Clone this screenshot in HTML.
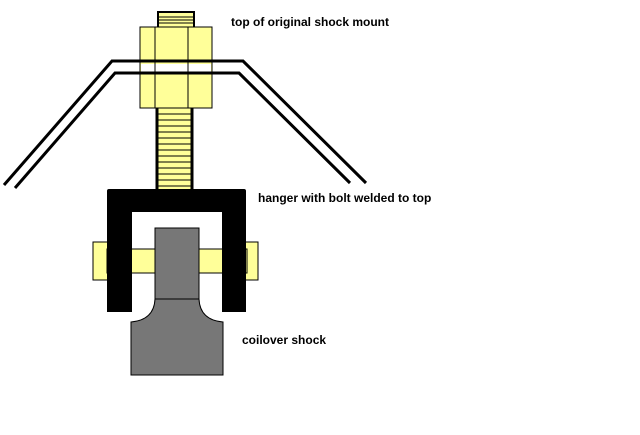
<!DOCTYPE html>
<html><head><style>
html,body{margin:0;padding:0;background:#fff;}
.t{position:absolute;font-family:"Liberation Sans",Arial,sans-serif;font-weight:bold;font-size:12px;color:#000;white-space:nowrap;line-height:14px;}
</style></head><body>
<div style="position:relative;width:640px;height:435px;overflow:hidden;">
<svg width="640" height="435" style="position:absolute;left:0;top:0">
<rect x="158" y="12" width="36" height="16" fill="#ffff99" stroke="#000" stroke-width="2"/>
<g stroke="#000" stroke-width="1">
<line x1="159" y1="17" x2="193" y2="17"/><line x1="159" y1="20" x2="193" y2="20"/><line x1="159" y1="23" x2="193" y2="23"/>
</g>
<rect x="157" y="107" width="35" height="84" fill="#ffff99" stroke="#000" stroke-width="3"/>
<g stroke="#000" stroke-width="1">
<line x1="158" y1="114" x2="191" y2="114"/><line x1="158" y1="120" x2="191" y2="120"/><line x1="158" y1="126" x2="191" y2="126"/>
<line x1="158" y1="132" x2="191" y2="132"/><line x1="158" y1="138" x2="191" y2="138"/><line x1="158" y1="144" x2="191" y2="144"/>
<line x1="158" y1="150" x2="191" y2="150"/><line x1="158" y1="156" x2="191" y2="156"/><line x1="158" y1="162" x2="191" y2="162"/>
<line x1="158" y1="168" x2="191" y2="168"/><line x1="158" y1="174" x2="191" y2="174"/><line x1="158" y1="180" x2="191" y2="180"/>
<line x1="158" y1="186" x2="191" y2="186"/>
</g>
<rect x="140" y="27" width="72" height="81" fill="#ffff99" stroke="#000" stroke-width="1"/>
<line x1="155" y1="27" x2="155" y2="108" stroke="#000"/>
<line x1="188" y1="27" x2="188" y2="108" stroke="#000"/>
<rect x="141" y="64" width="70" height="8" fill="#fff"/>
<line x1="155" y1="64" x2="155" y2="72" stroke="#000"/>
<line x1="188" y1="64" x2="188" y2="72" stroke="#000"/>
<polyline points="4,185 112,61 243,61 366,183" fill="none" stroke="#000" stroke-width="3"/>
<polyline points="15,188 115,73 239,73 350,183" fill="none" stroke="#000" stroke-width="3"/>
<rect x="93" y="242" width="15" height="38" fill="#ffff99" stroke="#000" stroke-width="1"/>
<rect x="245" y="242" width="13" height="38" fill="#ffff99" stroke="#000" stroke-width="1"/>
<rect x="107" y="249" width="140" height="24" fill="#ffff99" stroke="#000" stroke-width="1"/>
<path d="M109,189 H244 Q246,189 246,191 V312 H222 V212 H132 V312 H107 V191 Q107,189 109,189 Z" fill="#000"/>
<path d="M155,228 H199 V299 Q200,320 223,322 V375 H131 V322 Q154,320 155,299 Z" fill="#777" stroke="#000" stroke-width="1"/>
<line x1="155" y1="299" x2="199" y2="299" stroke="#000"/>
</svg>
<div class="t" style="left:231px;top:15px">top of original shock mount</div>
<div class="t" style="left:258px;top:191px">hanger with bolt welded to top</div>
<div class="t" style="left:242px;top:333px">coilover shock</div>
</div>
</body></html>
